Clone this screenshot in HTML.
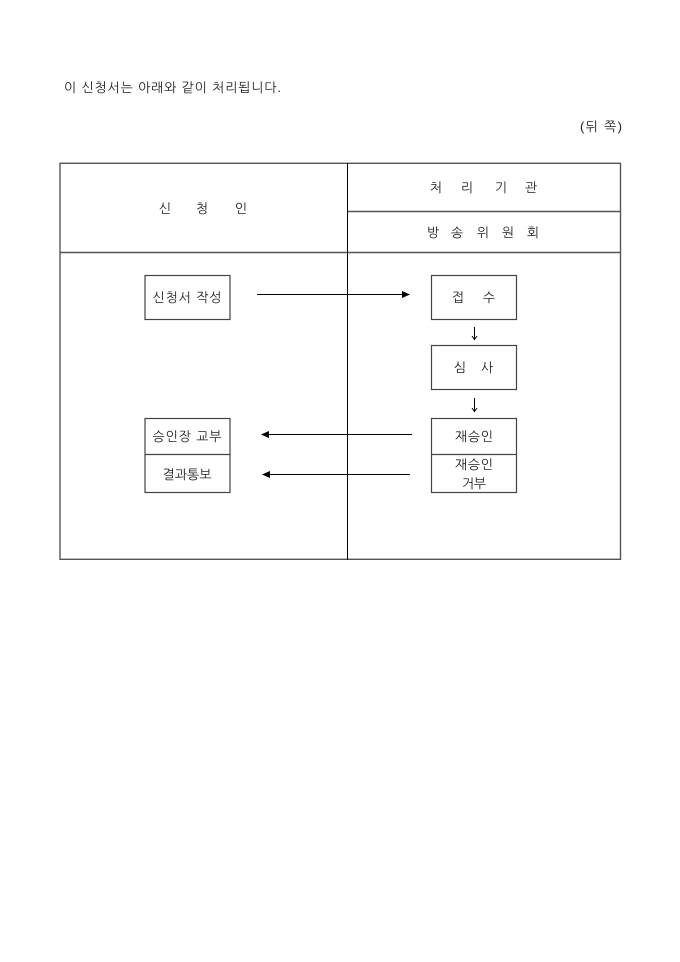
<!DOCTYPE html>
<html lang="ko">
<head>
<meta charset="utf-8">
<style>
html,body{margin:0;padding:0;background:#fff;width:680px;height:962px;overflow:hidden}
svg{display:block}
text{font-family:"Liberation Sans","NanumGothic","Noto Sans CJK KR",sans-serif;font-size:13px;fill:#222;text-anchor:middle}
.l{text-anchor:start}
</style>
</head>
<body>
<svg width="680" height="962" viewBox="0 0 680 962" xmlns="http://www.w3.org/2000/svg">
<defs>
<marker id="a" markerWidth="8" markerHeight="8" refX="7" refY="3.5" orient="auto" markerUnits="userSpaceOnUse"><path d="M0 0L8 3.5L0 7Z" fill="#000"/></marker>
</defs>
<rect width="680" height="962" fill="#fff"/>
<text class="l" x="64" y="92" textLength="217" lengthAdjust="spacing">이 신청서는 아래와 같이 처리됩니다.</text>
<text class="l" x="580" y="131" textLength="42" lengthAdjust="spacing">(뒤 쪽)</text>

<g fill="none" stroke="#555" stroke-width="1.4">
<rect x="60" y="163.3" width="560.5" height="396"/>
<line x1="60" y1="252.5" x2="620.5" y2="252.5"/>
<line x1="348" y1="211.5" x2="620.5" y2="211.5"/>
</g>
<line x1="347.5" y1="163" x2="347.5" y2="560" stroke="#000" stroke-width="1"/>
<g fill="none" stroke="#444" stroke-width="1.2">
<rect x="145" y="275.5" width="85" height="44"/>
<rect x="145" y="418.5" width="85" height="74"/>
<line x1="145" y1="454.5" x2="230" y2="454.5"/>
<rect x="431.5" y="275.5" width="85" height="44"/>
<rect x="431.5" y="345.5" width="85" height="44"/>
<rect x="431.5" y="418.5" width="85" height="74"/>
<line x1="431.5" y1="454.5" x2="516.5" y2="454.5"/>
</g>

<g stroke="#000" stroke-width="1" fill="none">
<line x1="257" y1="294.5" x2="409" y2="294.5" marker-end="url(#a)"/>
<line x1="412" y1="434.5" x2="262" y2="434.5" marker-end="url(#a)"/>
<line x1="410" y1="474.5" x2="263" y2="474.5" marker-end="url(#a)"/>
<path d="M474.5 327V339M472 336L474.5 339.5L477 336"/>
<path d="M474.5 398V411M472 408L474.5 411.5L477 408"/>
</g>

<text x="165" y="213">신</text>
<text x="202" y="213">청</text>
<text x="241" y="213">인</text>

<text x="436" y="192">처</text>
<text x="467" y="192">리</text>
<text x="501" y="192">기</text>
<text x="531" y="192">관</text>

<text x="433" y="237">방</text>
<text x="457" y="237">송</text>
<text x="483" y="237">위</text>
<text x="508" y="237">원</text>
<text x="533" y="237">회</text>

<text x="187" y="302" textLength="69" lengthAdjust="spacing">신청서 작성</text>
<text x="187" y="441" textLength="69" lengthAdjust="spacing">승인장 교부</text>
<text x="187" y="479" textLength="49" lengthAdjust="spacing">결과통보</text>

<text x="458" y="302">접</text>
<text x="489" y="302">수</text>
<text x="460" y="372">심</text>
<text x="487" y="372">사</text>
<text x="474" y="441" textLength="38" lengthAdjust="spacing">재승인</text>
<text x="474" y="469" textLength="38" lengthAdjust="spacing">재승인</text>
<text x="474" y="488" textLength="24" lengthAdjust="spacing">거부</text>
</svg>
</body>
</html>
